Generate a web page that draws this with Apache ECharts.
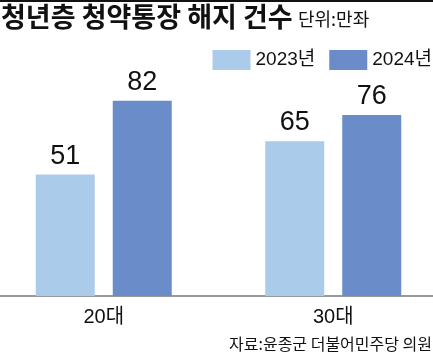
<!DOCTYPE html>
<html><head><meta charset="utf-8">
<script src="https://cdn.jsdelivr.net/npm/echarts@6/dist/echarts.min.js"></script>
<style>html,body{margin:0;padding:0;background:#fff}#c{width:433px;height:355px}</style>
</head><body><div id="c"></div>
<script>
const categories = ['20대', '30대'];
const seriesNames = ['2023년', '2024년'];
const values2023 = [51, 65];
const values2024 = [82, 76];
const titleText = '청년층 청약통장 해지 건수';
const unitText = '단위:만좌';
const sourceText = '자료:윤종군 더불어민주당 의원';

const NUM = "'Liberation Sans', 'Noto Sans CJK KR', sans-serif";
const CJK = "'Noto Sans CJK KR', sans-serif";

const chart = echarts.init(document.getElementById('c'), null, {renderer: 'canvas'});
chart.setOption({
  animation: false,
  backgroundColor: '#fff',
  title: [
    {text: titleText, left: 1, top: 3, padding: 0,
     textStyle: {fontFamily: CJK, fontWeight: 'bold', fontSize: 27, color: '#111'}},
    {text: unitText, left: 298, top: 10, padding: 0,
     textStyle: {fontFamily: CJK, fontWeight: 'normal', fontSize: 18, color: '#111'}},
    {text: sourceText, right: 1, top: 336, padding: 0,
     textStyle: {fontFamily: CJK, fontWeight: 'normal', fontSize: 16, color: '#111'}}
  ],
  graphic: [
    {type: 'rect', left: 0, top: 0, shape: {width: 433, height: 2}, style: {fill: '#111'}}
  ],
  legend: {
    right: 1, top: 50, padding: 0,
    itemWidth: 38, itemHeight: 20, itemGap: 14,
    icon: 'rect',
    textStyle: {fontFamily: NUM, fontSize: 19, color: '#111'},
    data: seriesNames
  },
  grid: {left: -11, right: -15, top: 58, bottom: 59, containLabel: false, outerBoundsMode: 'none'},
  xAxis: {
    type: 'category', data: categories,
    axisLine: {show: true, lineStyle: {color: '#777', width: 1.5}},
    axisTick: {show: false},
    axisLabel: {fontFamily: NUM, fontSize: 20, color: '#111', margin: 11}
  },
  yAxis: {
    type: 'value', min: 0, max: 100, show: false,
    splitLine: {show: false}
  },
  series: [
    {name: seriesNames[0], type: 'bar', data: values2023, barWidth: 59, barGap: '30.5%',
     itemStyle: {color: '#abcbea'},
     label: {show: true, position: 'top', distance: 5, fontFamily: NUM, fontSize: 27, color: '#111'}},
    {name: seriesNames[1], type: 'bar', data: values2024, barWidth: 59,
     itemStyle: {color: '#6a8cc8'},
     label: {show: true, position: 'top', distance: 5, fontFamily: NUM, fontSize: 27, color: '#111'}}
  ]
});
</script></body></html>
